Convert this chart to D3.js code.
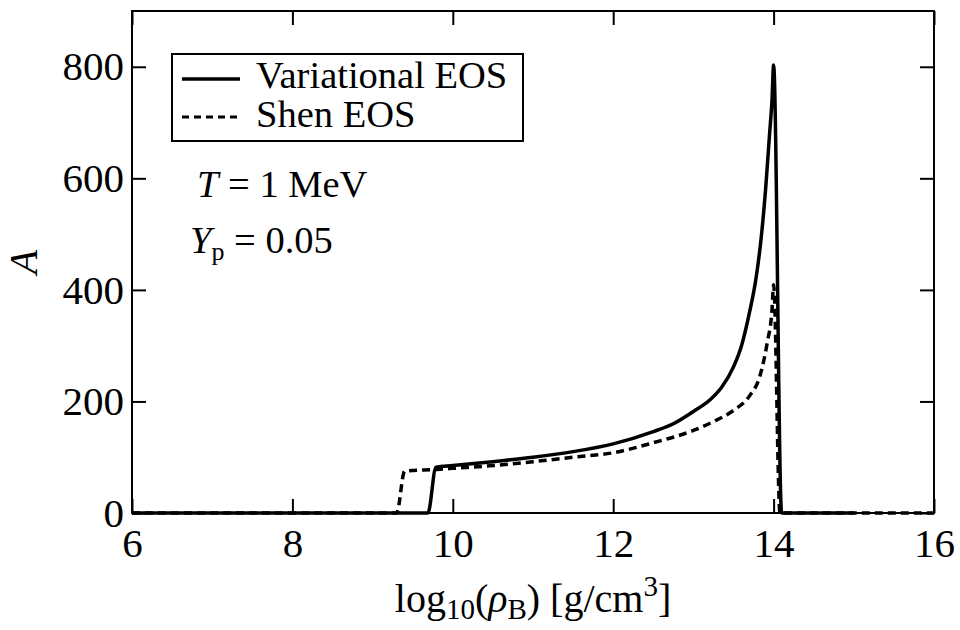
<!DOCTYPE html>
<html>
<head>
<meta charset="utf-8">
<script src="https://cdn.jsdelivr.net/npm/d3@7"></script>
<style>
  body { margin: 0; background: #fff; }
</style>
</head>
<body>
<div id="chart"></div>
<script>
// log10(rho_B) and mass number A
const variationalX = [6, 9.69, 9.79, 10, 10.5, 11, 11.5, 12, 12.5, 12.75, 13, 13.2, 13.35, 13.5, 13.6, 13.7, 13.78, 13.85, 13.9, 13.95, 13.98, 14.0, 14.1, 15];
const variationalA = [0, 0, 82, 85, 92, 100, 110, 124, 146, 160, 182, 202, 225, 262, 300, 360, 420, 500, 580, 680, 740, 803, 0, 0];
const shenX = [6, 9.3, 9.4, 9.8, 10, 10.5, 11, 11.5, 12, 12.5, 13, 13.25, 13.5, 13.7, 13.83, 13.92, 13.98, 14.0, 14.08, 16];
const shenA = [0, 0, 75, 78, 80, 85, 92, 100, 108, 126, 148, 164, 184, 210, 246, 305, 364, 409, 0, 0];
const xTicks = [6, 8, 10, 12, 14, 16];
const yTicks = [0, 200, 400, 600, 800];

const W = 960, H = 630;
const FONT = "'Liberation Serif'";
const FS = '38.5px';
const margin = { top: 11, right: 26, bottom: 117, left: 132 };
const width = W - margin.left - margin.right;
const height = H - margin.top - margin.bottom;

const svg = d3.select('#chart').append('svg')
  .attr('width', W)
  .attr('height', H);
const g = svg.append('g')
  .attr('transform', `translate(${margin.left},${margin.top})`);

const x = d3.scaleLinear().domain([6, 16]).range([0, width]);
const y = d3.scaleLinear().domain([0, 900]).range([height, 0]);

// axes with inward ticks on all four sides
const styleAxis = sel => {
  sel.select('.domain').remove();
  sel.selectAll('line').attr('stroke', '#000').attr('stroke-width', 2);
  sel.selectAll('text').style('font-family', FONT).style('font-size', '41px').attr('fill', '#000');
};
g.append('g').attr('transform', `translate(0,${height})`)
  .call(d3.axisBottom(x).tickValues(xTicks).tickSize(-14).tickPadding(15).tickFormat(d3.format('d')))
  .call(styleAxis);
g.append('g')
  .call(d3.axisTop(x).tickValues(xTicks).tickSize(-14).tickFormat(''))
  .call(styleAxis);
g.append('g')
  .call(d3.axisLeft(y).tickValues(yTicks).tickSize(-14).tickPadding(8).tickFormat(d3.format('d')))
  .call(styleAxis);
g.append('g').attr('transform', `translate(${width},0)`)
  .call(d3.axisRight(y).tickValues(yTicks).tickSize(-14).tickFormat(''))
  .call(styleAxis);

g.append('rect')
  .attr('width', width).attr('height', height)
  .attr('fill', 'none').attr('stroke', '#000').attr('stroke-width', 2);

const line = d3.line().x(d => x(d[0])).y(d => y(d[1])).curve(d3.curveMonotoneX);
const shen = d3.zip(shenX, shenA);
const variational = d3.zip(variationalX, variationalA);

g.append('path').datum(shen)
  .attr('d', line).attr('fill', 'none').attr('stroke', '#000')
  .attr('stroke-width', 3.5).attr('stroke-dasharray', '8,5');
g.append('path').datum(variational)
  .attr('d', line).attr('fill', 'none').attr('stroke', '#000')
  .attr('stroke-width', 3.5).attr('stroke-linejoin', 'miter');

// legend
const leg = svg.append('g');
leg.append('rect').attr('x', 172).attr('y', 54).attr('width', 351).attr('height', 87)
  .attr('fill', '#fff').attr('stroke', '#000').attr('stroke-width', 2);
leg.append('line').attr('x1', 182).attr('x2', 240).attr('y1', 79).attr('y2', 79)
  .attr('stroke', '#000').attr('stroke-width', 3.5);
leg.append('line').attr('x1', 182).attr('x2', 240).attr('y1', 117).attr('y2', 117)
  .attr('stroke', '#000').attr('stroke-width', 3).attr('stroke-dasharray', '7,5');
leg.append('text').attr('x', 256).attr('y', 88).text('Variational EOS');
leg.append('text').attr('x', 256).attr('y', 127).text('Shen EOS');

// annotations
const t1 = svg.append('text').attr('x', 197).attr('y', 197);
t1.append('tspan').style('font-style', 'italic').text('T');
t1.append('tspan').text(' = 1 MeV');
const t2 = svg.append('text').attr('x', 190).attr('y', 253);
t2.append('tspan').style('font-style', 'italic').text('Y');
t2.append('tspan').attr('dy', 7).style('font-size', '26px').text('p');
t2.append('tspan').attr('dy', -7).text(' = 0.05');

// axis titles
svg.append('text')
  .attr('transform', 'translate(37,262) rotate(-90)')
  .attr('text-anchor', 'middle')
  .style('font-style', 'italic')
  .style('font-size', '40px')
  .text('A');

const xt = svg.append('text')
  .attr('x', margin.left + width / 2).attr('y', 612)
  .attr('text-anchor', 'middle')
  .style('font-size', '40px');
xt.append('tspan').text('log');
xt.append('tspan').attr('dy', 7).style('font-size', '29px').text('10');
xt.append('tspan').attr('dy', -7).text('(');
xt.append('tspan').style('font-style', 'italic').text('ρ');
xt.append('tspan').attr('dy', 7).style('font-size', '29px').text('B');
xt.append('tspan').attr('dy', -7).text(') [g/cm');
xt.append('tspan').attr('dy', -16).style('font-size', '29px').text('3');
xt.append('tspan').attr('dy', 16).text(']');

// apply the serif face to every label outside the axes
svg.selectAll(':scope > text, :scope > g > text')
  .style('font-family', FONT)
  .style('font-size', function () { return this.style.fontSize || FS; })
  .attr('fill', '#000');
</script>
</body>
</html>
